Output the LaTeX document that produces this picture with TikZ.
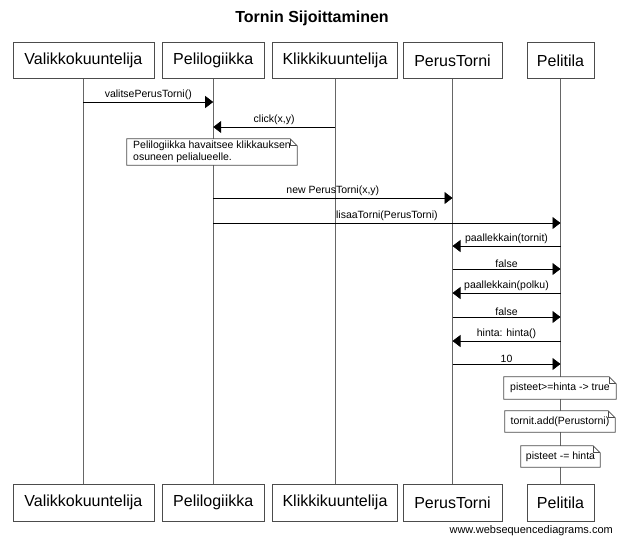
\documentclass[tikz,border=0pt]{standalone}
\usepackage{fontspec}
\setmainfont{Liberation Sans}
\usetikzlibrary{arrows.meta}
\begin{document}
\begin{tikzpicture}[x=1pt,y=-1pt,
  part/.style={draw=black!70, fill=white, minimum height=36pt, inner sep=0pt,
    font=\fontsize{16}{19}\selectfont, line width=0.8pt},
  lifeline/.style={draw=black!60, line width=0.8pt},
  msg/.style={draw=black, line width=0.7pt, -{Triangle[length=8pt,width=12pt]}},
  lbl/.style={font=\fontsize{10.5}{12}\selectfont, inner sep=0pt, above=1.5pt},
  notebox/.style={fill=white, inner sep=0pt, font=\fontsize{10.5}{11.5}\selectfont},
  noteline/.style={draw=black!70, line width=0.7pt}
]
\useasboundingbox (0,0) rectangle (623,542);

% title
\node[font=\bfseries\fontsize{16}{19}\selectfont] (title) at (312,18) {Tornin Sijoittaminen};

% participants (top)
\node[part, minimum width=141pt] (A) at (83.4,60.7) {Valikkokuuntelija};
\node[part, minimum width=102pt] (B) at (213.2,60.7) {Pelilogiikka};
\node[part, minimum width=125pt] (C) at (335,60.7) {Klikkikuuntelija};
\node[part, minimum width=99pt]  (D) at (452.5,60.7) {PerusTorni};
\node[part, minimum width=67pt]  (E) at (560.5,60.7) {Pelitila};

% participants (bottom)
\node[part, minimum width=141pt, minimum height=37pt] (A2) at (83.4,502.5) {Valikkokuuntelija};
\node[part, minimum width=102pt, minimum height=37pt] (B2) at (213.2,502.5) {Pelilogiikka};
\node[part, minimum width=125pt, minimum height=37pt] (C2) at (335,502.5) {Klikkikuuntelija};
\node[part, minimum width=99pt, minimum height=37pt]  (D2) at (452.5,502.5) {PerusTorni};
\node[part, minimum width=67pt, minimum height=37pt]  (E2) at (560.5,502.5) {Pelitila};

% lifelines
\foreach \p in {A,B,C,D,E} {
  \draw[lifeline] (\p.south) -- (\p2.north);
}

% messages
\draw[msg] (A |- 0,102) -- node[lbl] {valitsePerusTorni()} (B |- 0,102);
\draw[msg] (C |- 0,127) -- node[lbl] {click(x,y)} (B |- 0,127);
\draw[msg] (B |- 0,198) -- node[lbl] {new PerusTorni(x,y)} (D |- 0,198);
\draw[msg] (B |- 0,223) -- node[lbl] {lisaaTorni(PerusTorni)} (E |- 0,223);
\draw[msg] (E |- 0,246) -- node[lbl] {paallekkain(tornit)} (D |- 0,246);
\draw[msg] (D |- 0,269) -- node[lbl] {false} (E |- 0,269);
\draw[msg] (E |- 0,293) -- node[lbl] {paallekkain(polku)} (D |- 0,293);
\draw[msg] (D |- 0,317) -- node[lbl] {false} (E |- 0,317);
\draw[msg] (E |- 0,341) -- node[lbl] {hinta: hinta()} (D |- 0,341);
\draw[msg] (D |- 0,364) -- node[lbl] {10} (E |- 0,364);

% notes
\node[notebox, minimum width=170pt, minimum height=26pt, align=left] (n1) at (212,152)
  {Pelilogiikka havaitsee klikkauksen\\osuneen pelialueelle.};
\node[notebox, minimum width=112pt, minimum height=22pt] (n2) at (560,388) {pisteet>=hinta -> true};
\node[notebox, minimum width=110pt, minimum height=21pt] (n3) at (560,421.5) {tornit.add(Perustorni)};
\node[notebox, minimum width=79pt, minimum height=21pt]  (n4) at (560.5,456.5) {pisteet -= hinta};

\foreach \n in {n1,n2,n3,n4} {
  \draw[noteline] (\n.north west) -- ([xshift=-7pt]\n.north east) -- ([yshift=-7pt]\n.north east)
     -- (\n.south east) -- (\n.south west) -- cycle;
  \draw[noteline] ([xshift=-7pt]\n.north east) |- ([yshift=-7pt]\n.north east);
}

% watermark
\node[anchor=base east, inner sep=0pt, font=\fontsize{11}{13}\selectfont] (wm) at (613,533) {www.websequencediagrams.com};
\end{tikzpicture}
\end{document}
